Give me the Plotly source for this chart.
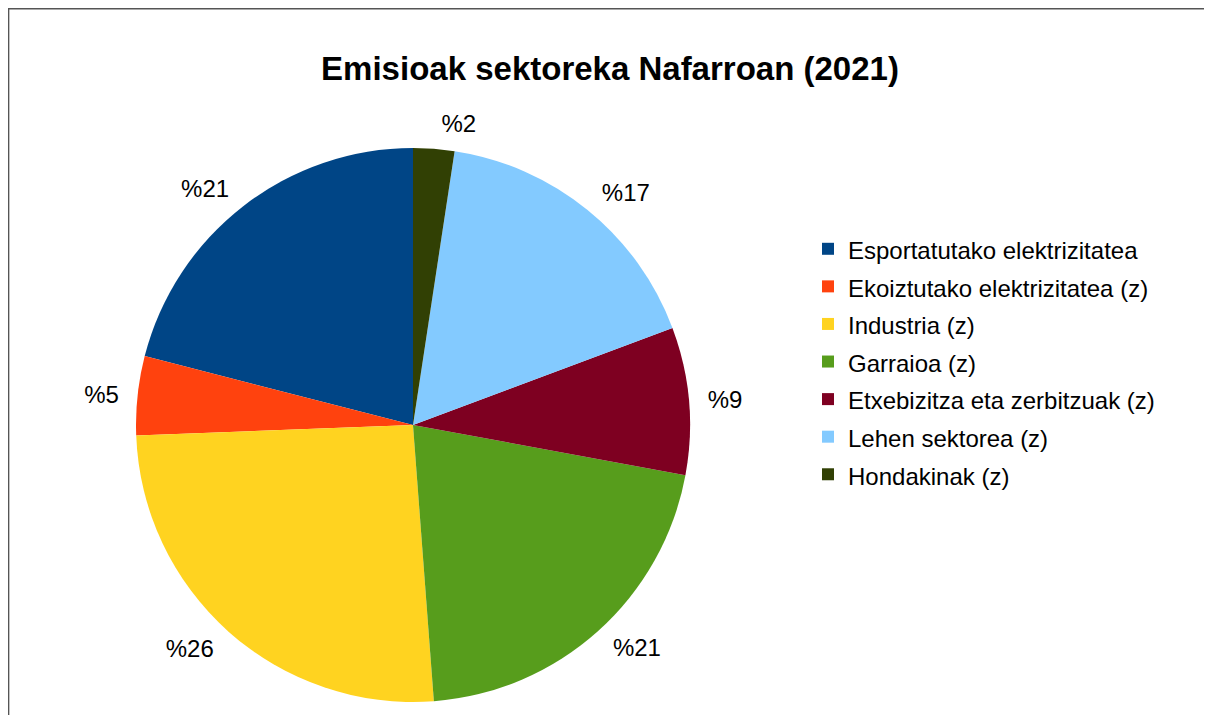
import plotly.graph_objects as go

categories = [
    "Esportatutako elektrizitatea",
    "Ekoiztutako elektrizitatea (z)",
    "Industria (z)",
    "Garraioa (z)",
    "Etxebizitza eta zerbitzuak (z)",
    "Lehen sektorea (z)",
    "Hondakinak (z)",
]
shares = [21.0, 4.6, 25.6, 20.9, 8.6, 16.9, 2.4]
colors = ["#004586", "#ff420e", "#ffd320", "#579d1c", "#7e0021", "#83caff", "#314004"]
title = "Emisioak sektoreka Nafarroan (2021)"

# page has an 8px body margin; figure is sized to fill the rest of the window
OFF = 8
W, H = 1212 - OFF, 715 - OFF


def px_x(x):
    return (x - OFF) / W


def px_y(y):
    return min(1.0, max(0.0, 1 - (y - OFF) / H))


cx, cy, r = 413, 425, 277
label_gap = 12  # labels sit a bit away from the pie edge

# counterclockwise pies in plotly end the first slice at the rotation angle,
# so rotate back by the first slice so it starts at 12 o'clock
first_angle = shares[0] / sum(shares) * 360
font_family = "Liberation Sans, Arial, sans-serif"

# legend text rendered at 24px while the legend row height follows a larger font
legend_labels = ["<span style='font-size:24px'>" + c + "</span>" for c in categories]

fig = go.Figure()
fig.add_trace(go.Pie(
    labels=legend_labels,
    values=shares,
    sort=False,
    direction="counterclockwise",
    rotation=-first_angle,
    marker=dict(colors=colors, line=dict(width=0)),
    textinfo="none",
    domain=dict(x=[px_x(cx - r), px_x(cx + r)], y=[px_y(cy + r), px_y(cy - r)]),
    customdata=categories,
    hovertemplate="%{customdata}: %{value:.1f}%<extra></extra>",
))
# transparent, slightly larger pie that only carries the percentage labels
R = r + label_gap
fig.add_trace(go.Pie(
    labels=legend_labels,
    values=shares,
    sort=False,
    direction="counterclockwise",
    rotation=-first_angle,
    marker=dict(colors=["rgba(0,0,0,0)"] * len(shares), line=dict(width=0)),
    texttemplate="%%{value:.0f}",
    textposition="outside",
    textfont=dict(size=24, color="#000000", family=font_family),
    domain=dict(x=[px_x(cx - R), px_x(cx + R)], y=[px_y(cy + R), px_y(cy - R)]),
    showlegend=False,
    hoverinfo="skip",
))

fig.update_layout(
    width=W, height=H,
    margin=dict(l=0, r=0, t=0, b=0, autoexpand=False),
    paper_bgcolor="white",
    font=dict(family=font_family, color="#000000"),
    title=dict(text="<b>" + title + "</b>", x=px_x(610), xanchor="center", y=px_y(68), yanchor="middle",
               font=dict(size=33, color="#000000")),
    legend=dict(x=px_x(808), xanchor="left", y=px_y(362), yanchor="middle",
                font=dict(size=26.6, color="#000000"), itemwidth=30, traceorder="normal"),
    shapes=[dict(type="rect", xref="paper", yref="paper", x0=0.0005, x1=1.02, y0=-0.02, y1=0.999,
                 line=dict(color="#555555", width=1.5), fillcolor="rgba(0,0,0,0)", layer="below")],
)

fig.write_html("out.html")
